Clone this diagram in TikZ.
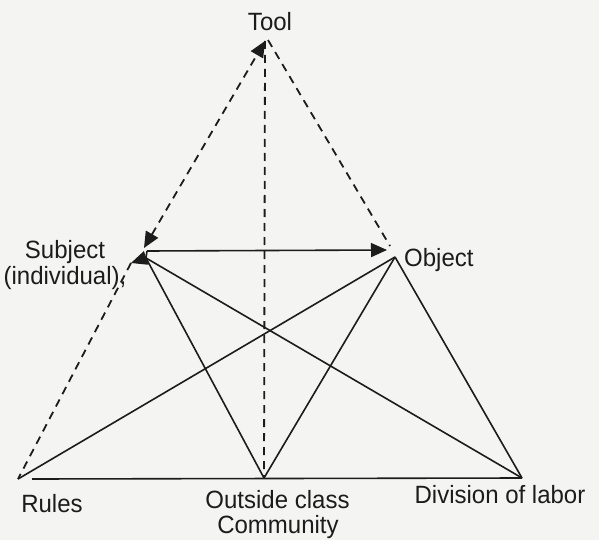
\documentclass[tikz,border=0pt]{standalone}
\usepackage{fontspec}
\setmainfont{Liberation Sans}[FakeStretch=0.96]
\usetikzlibrary{arrows.meta}
\definecolor{ink}{HTML}{1C1C1C}
\definecolor{paper}{HTML}{F4F4F2}
\begin{document}
\begin{tikzpicture}[x=1pt,y=-1pt,
  solidline/.style={draw=ink, line width=1.6pt},
  dashline/.style={draw=ink, line width=1.8pt, dash pattern=on 8pt off 6pt},
  lbl/.style={font=\fontsize{25}{27}\selectfont, text=ink, inner sep=0pt, anchor=base},
  headend/.style={-{Triangle[length=16pt,width=14pt]}},
  headboth/.style={{Triangle[length=16pt,width=14pt]}-{Triangle[length=16pt,width=14pt]}}
]
\fill[paper] (0,0) rectangle (599,540);
\useasboundingbox (0,0) rectangle (599,540);

% vertices
\coordinate (T) at (265,41);
\coordinate (Td) at (268,40);
\coordinate (S) at (131,263);
\coordinate (Sj) at (146,258);
\coordinate (Sh) at (147,251);
\coordinate (Sd) at (144,248);
\coordinate (Oh) at (387,250);
\coordinate (Od) at (390,246);
\coordinate (O) at (395,257);
\coordinate (R) at (18,479);
\coordinate (Rb) at (32,479);
\coordinate (C) at (264,478);
\coordinate (D) at (522,478);

% labels
\node[lbl] (tl) at (270,31) {Tool};
\node[lbl] (sl1) at (65,258) {Subject};
\node[lbl] (sl2) at (65,284) {(individual),};
\node[lbl, anchor=base west] (ol) at (404,266) {Object};
\node[lbl] (rl) at (52,512) {Rules};
\node[lbl] (cl1) at (277.5,508) {Outside class};
\node[lbl] (cl2) at (278,533) {Community};
\node[lbl] (dl) at (500,503) {Division of labor};

% solid lines
\draw[solidline] (Rb) -- (D);
\draw[solidline] (Sj) -- (C);
\draw[solidline] (Sj) -- (D);
\draw[solidline] (O) -- (R);
\draw[solidline] (O) -- (C);
\draw[solidline] (O) -- (D);
\draw[solidline, headend] (Sh) -- (Oh);
\draw[solidline, headend] (Sh) -- (Sj) -- (S);

% dashed lines
\draw[dashline, headboth] (Sd) -- (T);
\draw[dashline] (S) -- (R);
\draw[dashline] (Td) -- (Od);
\draw[dashline] (T) -- (C);
\end{tikzpicture}
\end{document}
